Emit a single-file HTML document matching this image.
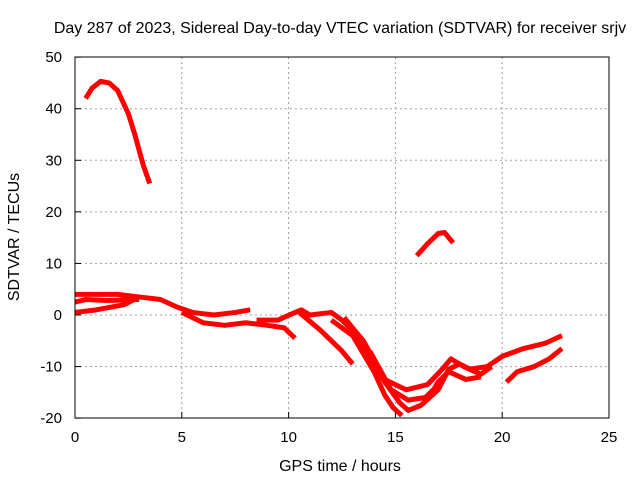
<!DOCTYPE html>
<html><head><meta charset="utf-8"><style>
body{margin:0;background:#fff}
svg{font-family:"Liberation Sans",sans-serif;font-size:15px}
</style></head><body>
<svg id="chart" width="640" height="480">
<text x="340" y="33" text-anchor="middle" font-size="16">Day 287 of 2023, Sidereal Day-to-day VTEC variation (SDTVAR) for receiver srjv</text>
<text x="340" y="471" text-anchor="middle" font-size="16">GPS time / hours</text>
<text transform="translate(19,237) rotate(-90)" text-anchor="middle" font-size="16">SDTVAR / TECUs</text>
<g id="grid"></g>
<g id="ticks"></g>
<g id="series"></g>
<rect x="75" y="57" width="534" height="361" fill="none" stroke="#000" stroke-width="1"/>
</svg>
<script>
const xTicks=[0,5,10,15,20,25];
const yTicks=[-20,-10,0,10,20,30,40,50];
const trackA=[[0.5,42],[0.8,44],[1.2,45.3],[1.6,45],[2,43.5],[2.5,39],[2.8,35],[3.2,29],[3.5,25.5]];
const trackB=[[16,11.5],[16.5,13.8],[17,15.8],[17.3,16],[17.7,14]];
const trackC=[[0,4],[1,4],[2,4],[3,3.5],[4,3],[4.8,1.5],[5.5,0.5],[6.5,0],[7.5,0.5],[8.2,1]];
const trackD=[[0,0.5],[1,1],[2.3,2],[3,3.5]];
const trackD2=[[0,2.5],[0.5,3],[1.5,2.8],[3,3]];
const trackE=[[5,0.5],[6,-1.5],[7,-2],[8,-1.5],[9,-2],[9.8,-2.5],[10.3,-4.5]];
const trackF=[[8.5,-1],[9.5,-1],[10.3,0.5],[10.6,1],[11,0],[12,0.5],[12.5,-1],[13,-3],[13.8,-8],[14.5,-13],[15.2,-17],[15.6,-18.5],[16.2,-17.5],[17,-14.5],[17.5,-10.5],[18,-9.5],[18.5,-10.5],[19.3,-10],[20,-8],[21,-6.5],[22,-5.5],[22.8,-4]];
const trackG=[[10.5,0.5],[11.5,-3],[12.5,-7],[13,-9.5]];
const trackH=[[12,-1],[13,-4],[14,-11],[14.5,-15.5],[14.9,-18],[15.3,-19.5]];
const trackI=[[12.6,-0.5],[13.5,-5],[14.5,-12.5],[15.5,-14.5],[16.5,-13.5],[17.2,-10.5],[17.6,-8.5],[18.2,-10],[19,-11.5],[19.5,-10]];
const trackJ=[[16.5,-16.5],[17,-13],[17.5,-11],[18.3,-12.5],[19,-12]];
const trackK=[[20.2,-13],[20.7,-11],[21.5,-10],[22.2,-8.5],[22.8,-6.5]];
const trackL=[[13.8,-7],[14.8,-14.5],[15.6,-16.5],[16.4,-16],[16.9,-14]];
const tracks=[trackA,trackB,trackC,trackD,trackD2,trackE,trackF,trackG,trackH,trackI,trackJ,trackK,trackL];
const X=v=>75+v*(534/25), Y=v=>315-v*(361/70);
const ns='http://www.w3.org/2000/svg';
const grid=document.getElementById('grid'),ticks=document.getElementById('ticks'),ser=document.getElementById('series');
function mk(tag,a,p){const e=document.createElementNS(ns,tag);for(const k in a)e.setAttribute(k,a[k]);p.appendChild(e);return e;}
xTicks.forEach(t=>{const x=X(t);
 if(t>0&&t<25){const g=mk('line',{x1:x,x2:x,y1:57,y2:418,stroke:'#a0a0a0','stroke-dasharray':'2,3'},grid);}
 const tk=mk('line',{x1:x,x2:x,y1:418,y2:412,stroke:'#000'},ticks);
 const tl=mk('text',{x:x,y:442,'text-anchor':'middle'},ticks);tl.textContent=t;});
yTicks.forEach(t=>{const y=Y(t);
 if(t>-20&&t<50){const g=mk('line',{x1:75,x2:609,y1:y,y2:y,stroke:'#a0a0a0','stroke-dasharray':'2,3'},grid);}
 const tk=mk('line',{x1:75,x2:81,y1:y,y2:y,stroke:'#000'},ticks);
 const tl=mk('text',{x:62,y:y+5,'text-anchor':'end'},ticks);tl.textContent=t;});
tracks.forEach(tr=>{const p=mk('polyline',{points:tr.map(d=>X(d[0])+','+Y(d[1])).join(' '),fill:'none',stroke:'#ff0000','stroke-width':5,'stroke-linejoin':'round'},ser);
 
 });
</script>
</body></html>
